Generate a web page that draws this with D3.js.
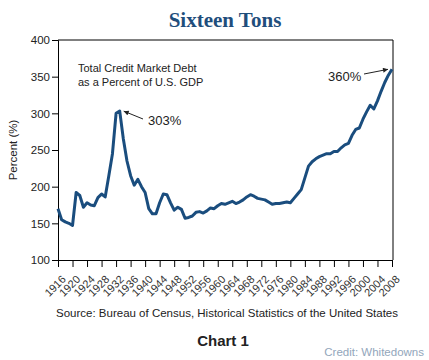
<!DOCTYPE html>
<html><head><meta charset="utf-8">
<script src="https://cdn.jsdelivr.net/npm/d3@7"></script>
<style>html,body{margin:0;padding:0;background:#fff;}</style>
</head><body>
<svg id="c" width="429" height="360"></svg>
<script>
const startYear = 1916;
const debtPct = [170,155,152,150,147,192,188,172,178,175,174,185,190,186,215,245,300,303,265,235,
  215,202,210,200,192,170,163,163,178,190,189,178,168,172,169,157,158,160,165,166,
  164,167,171,170,174,177,176,178,180,177,179,182,186,189,187,184,183,182,179,176,
  177,177,178,179,178,184,190,196,212,228,234,238,241,243,245,245,248,248,253,257,
  259,270,278,280,292,302,311,306,317,330,342,352,360];
const years = debtPct.map((_, i) => startYear + i);
const xTicks = d3.range(1916, 2009, 4);
const yTicks = [100,150,200,250,300,350,400];
const notes = [{year:1933, value:303, label:"303%"}, {year:2008, value:360, label:"360%"}];

const svg = d3.select("#c");
const L = 58, R = 393, T = 40, B = 260;
const x = d3.scaleLinear().domain([1916, 2008]).range([L, 392]);
const y = d3.scaleLinear().domain([100, 400]).range([B, T]);
const font = "Liberation Sans, Arial, sans-serif";

svg.append("text").attr("x", 225).attr("y", 27).attr("text-anchor", "middle")
  .attr("font-family", "Liberation Serif, serif").attr("font-weight", "bold")
  .attr("font-size", 21).attr("fill", "#1f4e7c").text("Sixteen Tons");

// frame
svg.append("path").attr("d", `M${L},${T}H${R}V${B}`).attr("fill", "none").attr("stroke", "#000").attr("stroke-width", 1);

const ya = svg.append("g").attr("transform", `translate(${L},0)`)
  .call(d3.axisLeft(y).tickValues(yTicks).tickSize(6).tickPadding(2));
ya.select(".domain").attr("stroke", "#000");
ya.selectAll("text").attr("font-family", font).attr("font-size", 11.5).attr("fill", "#222");

const xa = svg.append("g").attr("transform", `translate(0,${B})`)
  .call(d3.axisBottom(x).tickValues(xTicks).tickFormat(d3.format("d")).tickSize(7).tickSizeOuter(0));
xa.select(".domain").attr("stroke", "#000");
xa.selectAll("text").attr("font-family", font).attr("font-size", 11).attr("fill", "#333")
  .attr("text-anchor", "end").attr("x", 0).attr("y", 0).attr("dy", 0)
  .attr("transform", "translate(8,20) rotate(-45)");

svg.append("text").attr("transform", "translate(17,150) rotate(-90)").attr("text-anchor", "middle")
  .attr("font-family", font).attr("font-size", 11.5).attr("fill", "#222").text("Percent (%)");

const line = d3.line().x((d, i) => x(years[i])).y(d => y(d));
svg.append("path").datum(debtPct).attr("d", line).attr("fill", "none")
  .attr("stroke", "#1a4d7e").attr("stroke-width", 3).attr("stroke-linejoin", "round");

svg.append("text").attr("x", 78).attr("y", 72).attr("font-family", font).attr("font-size", 11)
  .attr("fill", "#222").text("Total Credit Market Debt");
svg.append("text").attr("x", 78).attr("y", 86).attr("font-family", font).attr("font-size", 11)
  .attr("fill", "#222").text("as a Percent of U.S. GDP");

svg.append("defs").append("marker").attr("id", "ah").attr("viewBox", "0 0 10 10")
  .attr("refX", 10).attr("refY", 5).attr("markerWidth", 7).attr("markerHeight", 5)
  .attr("orient", "auto").append("path").attr("d", "M0,0L10,5L0,10Z").attr("fill", "#222");

const n1 = notes[0], n2 = notes[1];
svg.append("line").attr("x1", 143).attr("y1", 119).attr("x2", x(n1.year) + 4).attr("y2", y(n1.value))
  .attr("stroke", "#222").attr("stroke-width", 1).attr("marker-end", "url(#ah)");
svg.append("text").attr("x", 148).attr("y", 125).attr("font-family", font).attr("font-size", 13)
  .attr("fill", "#222").text(n1.label);
svg.append("line").attr("x1", 364).attr("y1", 74).attr("x2", x(n2.year) - 4).attr("y2", y(n2.value))
  .attr("stroke", "#222").attr("stroke-width", 1).attr("marker-end", "url(#ah)");
svg.append("text").attr("x", 328).attr("y", 81).attr("font-family", font).attr("font-size", 13)
  .attr("fill", "#222").text(n2.label);

svg.append("text").attr("x", 227).attr("y", 317).attr("text-anchor", "middle").attr("font-family", font)
  .attr("font-size", 11.5).attr("fill", "#222").text("Source: Bureau of Census, Historical Statistics of the United States");
svg.append("text").attr("x", 223).attr("y", 346).attr("text-anchor", "middle").attr("font-family", font)
  .attr("font-size", 15).attr("font-weight", "bold").attr("fill", "#222").text("Chart 1");
svg.append("text").attr("x", 424).attr("y", 356).attr("text-anchor", "end").attr("font-family", font)
  .attr("font-size", 11.5).attr("fill", "#92a6bb").text("Credit: Whitedowns");
</script>
</body></html>
